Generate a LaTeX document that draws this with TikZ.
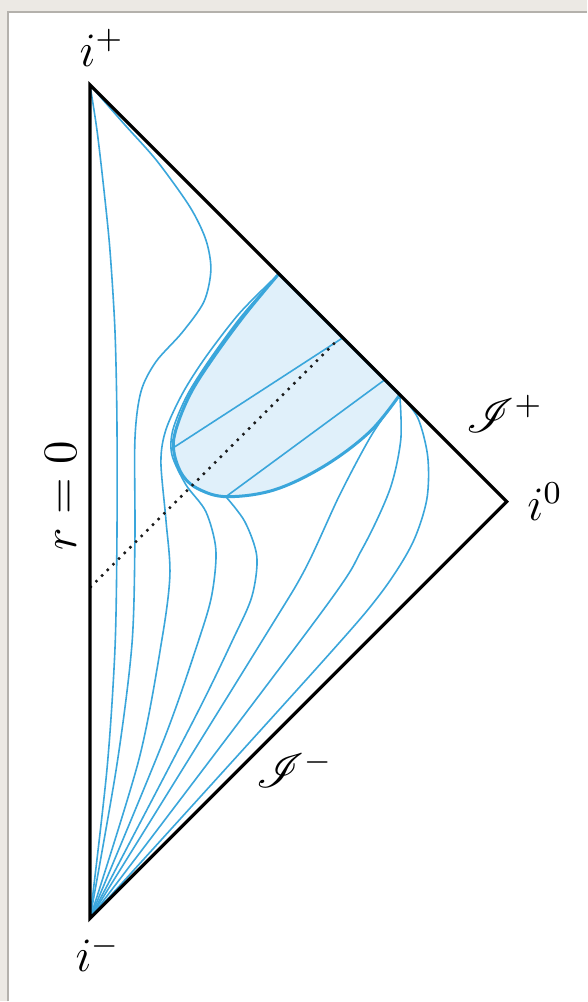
\documentclass[tikz,border=0pt]{standalone}
\usepackage{amsmath,amssymb,mathrsfs}
\usetikzlibrary{positioning}
\definecolor{ink}{HTML}{1A1A1A}
\definecolor{sky}{HTML}{3AA6DB}
\definecolor{skywash}{HTML}{E0F0FA}
\definecolor{paper}{HTML}{ECE9E4}
\definecolor{rim}{HTML}{B4B1AC}
\tikzset{
wall/.style={draw=black,line width=.8pt,line join=miter},
world/.style={draw=sky,line width=.4pt},
shell/.style={fill=skywash,draw=sky,line width=.75pt},
ray/.style={draw=ink,line width=.6pt,dash pattern=on .6pt off 1.4pt},
ptlabel/.style={font=\fontsize{12}{14}\selectfont,inner sep=0pt}}

\begin{document}
\begin{tikzpicture}[x=.25pt,y=-.25pt]
\fill[paper] (0,0) rectangle (587,1002);
\fill[white] (8,12) rectangle (587,1002);
\draw[rim,line width=.3pt] (8,1002)--(8,12)--(587,12);
\useasboundingbox (0,0) rectangle (587,1002);
% corners of the diagram
\coordinate (ip) at (90,85);
\coordinate (im) at (90,919);
\coordinate (io) at (507,502);
\coordinate (A) at (279,274);
\coordinate (B) at (400,395);
\coordinate (d1) at (175,447);
\coordinate (s1) at (343,338);
\coordinate (e1) at (226,497);
\coordinate (s2) at (385,380);
\coordinate (r0) at (90,588);
\coordinate (r1) at (338,340);
% shell
\path[shell] plot[smooth,tension=.6] coordinates {(A) (245,315) (212,360) (190,395) (176,430) (174,452) (183,476) (200,490) (228,497) (275,490) (325,466) (370,432) (B)} -- cycle;
% worldlines
\draw[world] plot[smooth] coordinates {(ip) (97,130) (104,190) (110,250) (115,330) (117,420) (117,540) (115,650) (107,770) (im)};
\draw[world] plot[smooth] coordinates {(ip) (125,125) (157,161) (190,207) (206,240) (211,270) (204,302) (182,333) (156,362) (141,392) (135,440) (135,540) (132,645) (117,765) (im)};
\draw[world] plot[smooth] coordinates {(A) (240,313) (206,357) (183,393) (166,430) (161,462) (166,520) (170,575) (162,640) (139,760) (im)};
\draw[world] plot[smooth] coordinates {(A) (242,316) (209,361) (187,396) (173,430) (172,455) (186,485) (206,512) (216,550) (212,595) (199,640) (164,740) (im)};
\draw[world] plot[smooth] coordinates {(e1) (245,522) (257,557) (252,597) (233,640) (194,720) (im)};
\draw[world] plot[smooth] coordinates {(B) (372,435) (340,495) (305,570) (263,640) (im)};
\draw[world] plot[smooth] coordinates {(B) (401,440) (390,490) (362,550) (320,615) (im)};
\draw[world] plot[smooth] coordinates {(B) (418,418) (428,457) (427,500) (412,545) (380,595) (320,665) (im)};
\draw[world] (d1) -- (s1);
\draw[world] (e1) -- (s2);
% null ray
\draw[ray] (r0) -- (r1);
% boundary
\draw[wall] (ip) -- (io) -- (im) -- cycle;
\node[ptlabel,above=4.5pt of ip,xshift=3pt] (lip) {$i^+$};
\node[ptlabel,below=4pt of im,xshift=2pt] (lim) {$i^-$};
\node[ptlabel,right=5pt of io] (lio) {$i^0$};
\node[ptlabel] (lscrp) at (505,414) {$\mathscr{I}^+$};
\node[ptlabel] (lscrm) at (295,770) {$\mathscr{I}^-$};
\node[ptlabel,rotate=90] (lr) at (61,496) {$r=0$};
\end{tikzpicture}
\end{document}
